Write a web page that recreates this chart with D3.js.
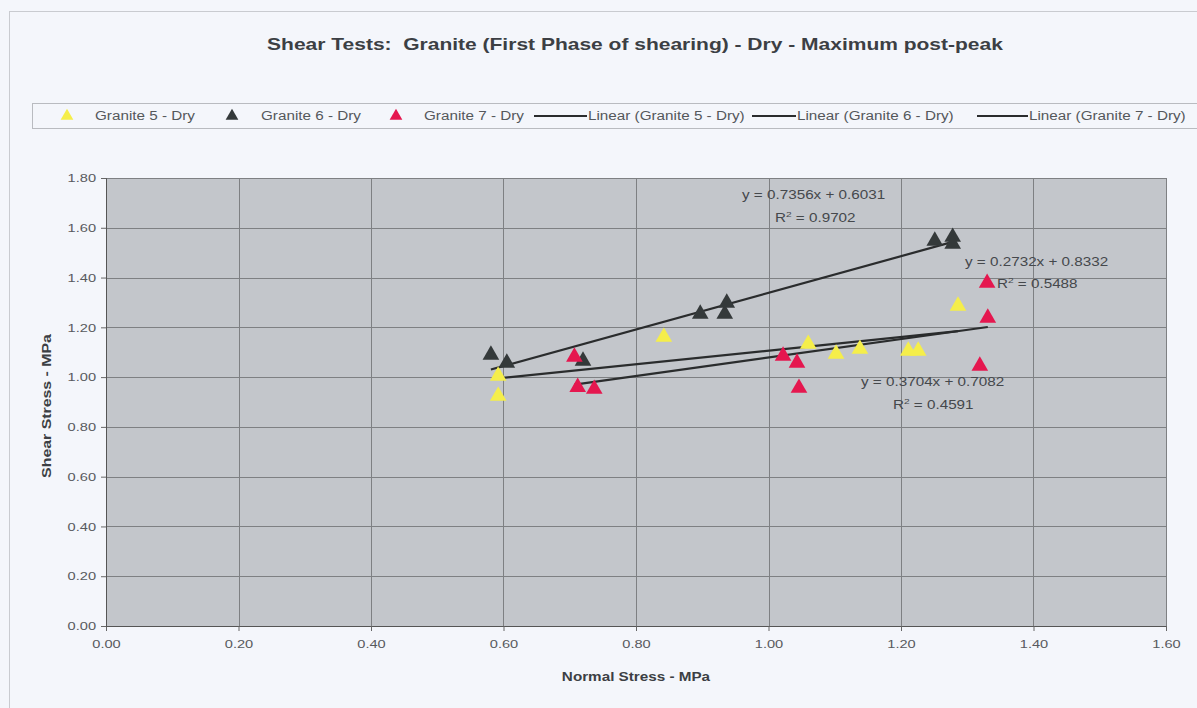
<!DOCTYPE html>
<html>
<head>
<meta charset="utf-8">
<script src="https://cdn.jsdelivr.net/npm/d3@7"></script>
<style>
  body { margin: 0; background: #f4f6fb; }
  svg text { font-family: "Liberation Sans", Arial, sans-serif; }
</style>
</head>
<body>
<div id="chart"></div>
<script>
// data
var seriesNames = ["Granite 5 - Dry", "Granite 6 - Dry", "Granite 7 - Dry"];
var seriesColors = ["#f5ee4a", "#34393a", "#e5174f"];

var granite5X = [0.592, 0.592, 0.842, 1.060, 1.102, 1.138, 1.211, 1.226, 1.286];
var granite5Y = [1.009, 0.928, 1.165, 1.137, 1.097, 1.117, 1.109, 1.109, 1.290];

var granite6X = [0.581, 0.605, 0.720, 0.897, 0.934, 0.937, 1.251, 1.278, 1.278];
var granite6Y = [1.093, 1.061, 1.069, 1.258, 1.258, 1.302, 1.551, 1.567, 1.539];

var granite7X = [0.707, 0.712, 0.737, 1.022, 1.043, 1.046, 1.319, 1.330, 1.331];
var granite7Y = [1.085, 0.964, 0.956, 1.089, 1.061, 0.960, 1.049, 1.382, 1.242];

// trendline coefficients as printed on the chart
var slopes = [0.2732, 0.7356, 0.3704];
var intercepts = [0.8332, 0.6031, 0.7082];
var rSquared = ["0.5488", "0.9702", "0.4591"];

var xTicks = [0, 0.2, 0.4, 0.6, 0.8, 1.0, 1.2, 1.4, 1.6];
var yTicks = [0, 0.2, 0.4, 0.6, 0.8, 1.0, 1.2, 1.4, 1.6, 1.8];

var allX = [granite5X, granite6X, granite7X];
var allY = [granite5Y, granite6Y, granite7Y];

var svgWidth = 1197;
var svgHeight = 708;

var margin = { top: 178, right: 31, bottom: 82, left: 106 };
var width = svgWidth - margin.left - margin.right;
var height = svgHeight - margin.top - margin.bottom;

// the original text is drawn wider than Arial, so stretch it
var stretch = 1.27;
function widen(sel, k) {
  k = k || stretch;
  sel.each(function() {
    var len = this.getComputedTextLength();
    d3.select(this)
      .attr("textLength", len * k)
      .attr("lengthAdjust", "spacingAndGlyphs");
  });
}

var svg = d3.select("#chart")
  .append("svg")
  .attr("width", svgWidth)
  .attr("height", svgHeight);

// outer chart border
svg.append("rect")
  .attr("x", 9.5).attr("y", 11.5)
  .attr("width", svgWidth + 20).attr("height", svgHeight + 20)
  .attr("fill", "#f4f6fb")
  .attr("stroke", "#c9cbd0");

// title
svg.append("text")
  .attr("x", 635).attr("y", 50)
  .attr("text-anchor", "middle")
  .attr("font-size", "17px")
  .attr("font-weight", "bold")
  .attr("fill", "#3c3f44")
  .attr("xml:space", "preserve")
  .text("Shear Tests:  Granite (First Phase of shearing) - Dry - Maximum post-peak")
  .call(widen, 1.235);

var chartGroup = svg.append("g")
  .attr("transform", `translate(${margin.left}, ${margin.top})`);

var xScale = d3.scaleLinear().domain([0, 1.6]).range([0, width]);
var yScale = d3.scaleLinear().domain([0, 1.8]).range([height, 0]);

// plot area
chartGroup.append("rect")
  .attr("width", width).attr("height", height)
  .attr("fill", "#c3c6cb");

// gridlines
chartGroup.append("g")
  .selectAll("line.hgrid")
  .data(yTicks)
  .enter()
  .append("line")
  .attr("x1", 0).attr("x2", width)
  .attr("y1", d => Math.round(yScale(d)) + 0.5)
  .attr("y2", d => Math.round(yScale(d)) + 0.5)
  .attr("stroke", "#7e8083");

chartGroup.append("g")
  .selectAll("line.vgrid")
  .data(xTicks)
  .enter()
  .append("line")
  .attr("y1", 0).attr("y2", height)
  .attr("x1", d => Math.round(xScale(d)) + 0.5)
  .attr("x2", d => Math.round(xScale(d)) + 0.5)
  .attr("stroke", "#7e8083");

// axes
var bottomAxis = d3.axisBottom(xScale).tickValues(xTicks).tickFormat(d3.format(".2f")).tickSize(5).tickPadding(9);
var leftAxis = d3.axisLeft(yScale).tickValues(yTicks).tickFormat(d3.format(".2f")).tickSize(5).tickPadding(5);

var xAxis = chartGroup.append("g")
  .attr("transform", `translate(0, ${height})`)
  .call(bottomAxis);
var yAxis = chartGroup.append("g").call(leftAxis);

[xAxis, yAxis].forEach(function(ax) {
  ax.select(".domain").attr("stroke", "#555");
  ax.selectAll(".tick line").attr("stroke", "#666");
  ax.selectAll(".tick text")
    .attr("fill", "#585a5e")
    .attr("font-size", "11.5px")
    .attr("font-family", "Liberation Sans, Arial, sans-serif")
    .call(widen);
});

// axis titles
svg.append("text")
  .attr("x", margin.left + width / 2).attr("y", 681)
  .attr("text-anchor", "middle")
  .attr("font-size", "12px")
  .attr("font-weight", "bold")
  .attr("fill", "#3c3f44")
  .text("Normal Stress - MPa")
  .call(widen);

svg.append("text")
  .attr("transform", "translate(51, 406) rotate(-90)")
  .attr("text-anchor", "middle")
  .attr("font-size", "12.5px")
  .attr("font-weight", "bold")
  .attr("fill", "#3c3f44")
  .text("Shear Stress - MPa")
  .call(widen);

var triangle = d3.symbol().type(d3.symbolTriangle).size(120);

// trendlines (drawn over the x range of each series)
seriesNames.forEach(function(name, i) {
  var x0 = d3.min(allX[i]), x1 = d3.max(allX[i]);
  chartGroup.append("line")
    .attr("x1", xScale(x0)).attr("y1", yScale(slopes[i] * x0 + intercepts[i]))
    .attr("x2", xScale(x1)).attr("y2", yScale(slopes[i] * x1 + intercepts[i]))
    .attr("stroke", "#2a2c2d")
    .attr("stroke-width", 2.2);
});

// markers
seriesNames.forEach(function(name, i) {
  var pts = allX[i].map((x, j) => ({ x: x, y: allY[i][j] }));
  chartGroup.append("g")
    .selectAll("path")
    .data(pts)
    .enter()
    .append("path")
    .attr("d", triangle)
    .attr("transform", d => `translate(${xScale(d.x)}, ${yScale(d.y) + 1})`)
    .attr("fill", seriesColors[i]);
});

// trendline equations
var eqPos = [[965, 266, 997, 288], [742, 199, 775, 222], [861, 386, 893, 409]];
seriesNames.forEach(function(name, i) {
  var p = eqPos[i];
  svg.append("text")
    .attr("x", p[0]).attr("y", p[1])
    .attr("font-size", "12px")
    .attr("fill", "#45484c")
    .text(`y = ${slopes[i].toFixed(4)}x + ${intercepts[i].toFixed(4)}`)
    .call(widen);
  var r = svg.append("text")
    .attr("x", p[2]).attr("y", p[3])
    .attr("font-size", "12px")
    .attr("fill", "#45484c");
  r.append("tspan").text("R");
  r.append("tspan").attr("font-size", "8px").attr("dy", -5).text("2");
  r.append("tspan").attr("dy", 5).text(" = " + rSquared[i]);
  r.attr("transform", `translate(${p[2] * (1 - stretch)}, 0) scale(${stretch}, 1)`);
});

// legend
var legend = svg.append("g");
legend.append("rect")
  .attr("x", 32.5).attr("y", 103.5)
  .attr("width", 1180).attr("height", 25)
  .attr("fill", "#f4f6fb")
  .attr("stroke", "#b9bbc0");

var markerX = [67, 232, 396];
var markerTextX = [95, 261, 424];
seriesNames.forEach(function(name, i) {
  legend.append("path")
    .attr("d", d3.symbol().type(d3.symbolTriangle).size(70))
    .attr("transform", `translate(${markerX[i]}, 116)`)
    .attr("fill", seriesColors[i]);
  legend.append("text")
    .attr("x", markerTextX[i]).attr("y", 120)
    .attr("font-size", "12px")
    .attr("fill", "#55585c")
    .text(name)
    .call(widen);
});

var lineX = [534, 752, 977];
var lineTextX = [588, 797, 1029];
seriesNames.forEach(function(name, i) {
  legend.append("line")
    .attr("x1", lineX[i]).attr("x2", lineTextX[i] - 1)
    .attr("y1", 116).attr("y2", 116)
    .attr("stroke", "#2a2c2d").attr("stroke-width", 2);
  legend.append("text")
    .attr("x", lineTextX[i]).attr("y", 120)
    .attr("font-size", "12px")
    .attr("fill", "#55585c")
    .text(`Linear (${name})`)
    .call(widen);
});
</script>
</body>
</html>
